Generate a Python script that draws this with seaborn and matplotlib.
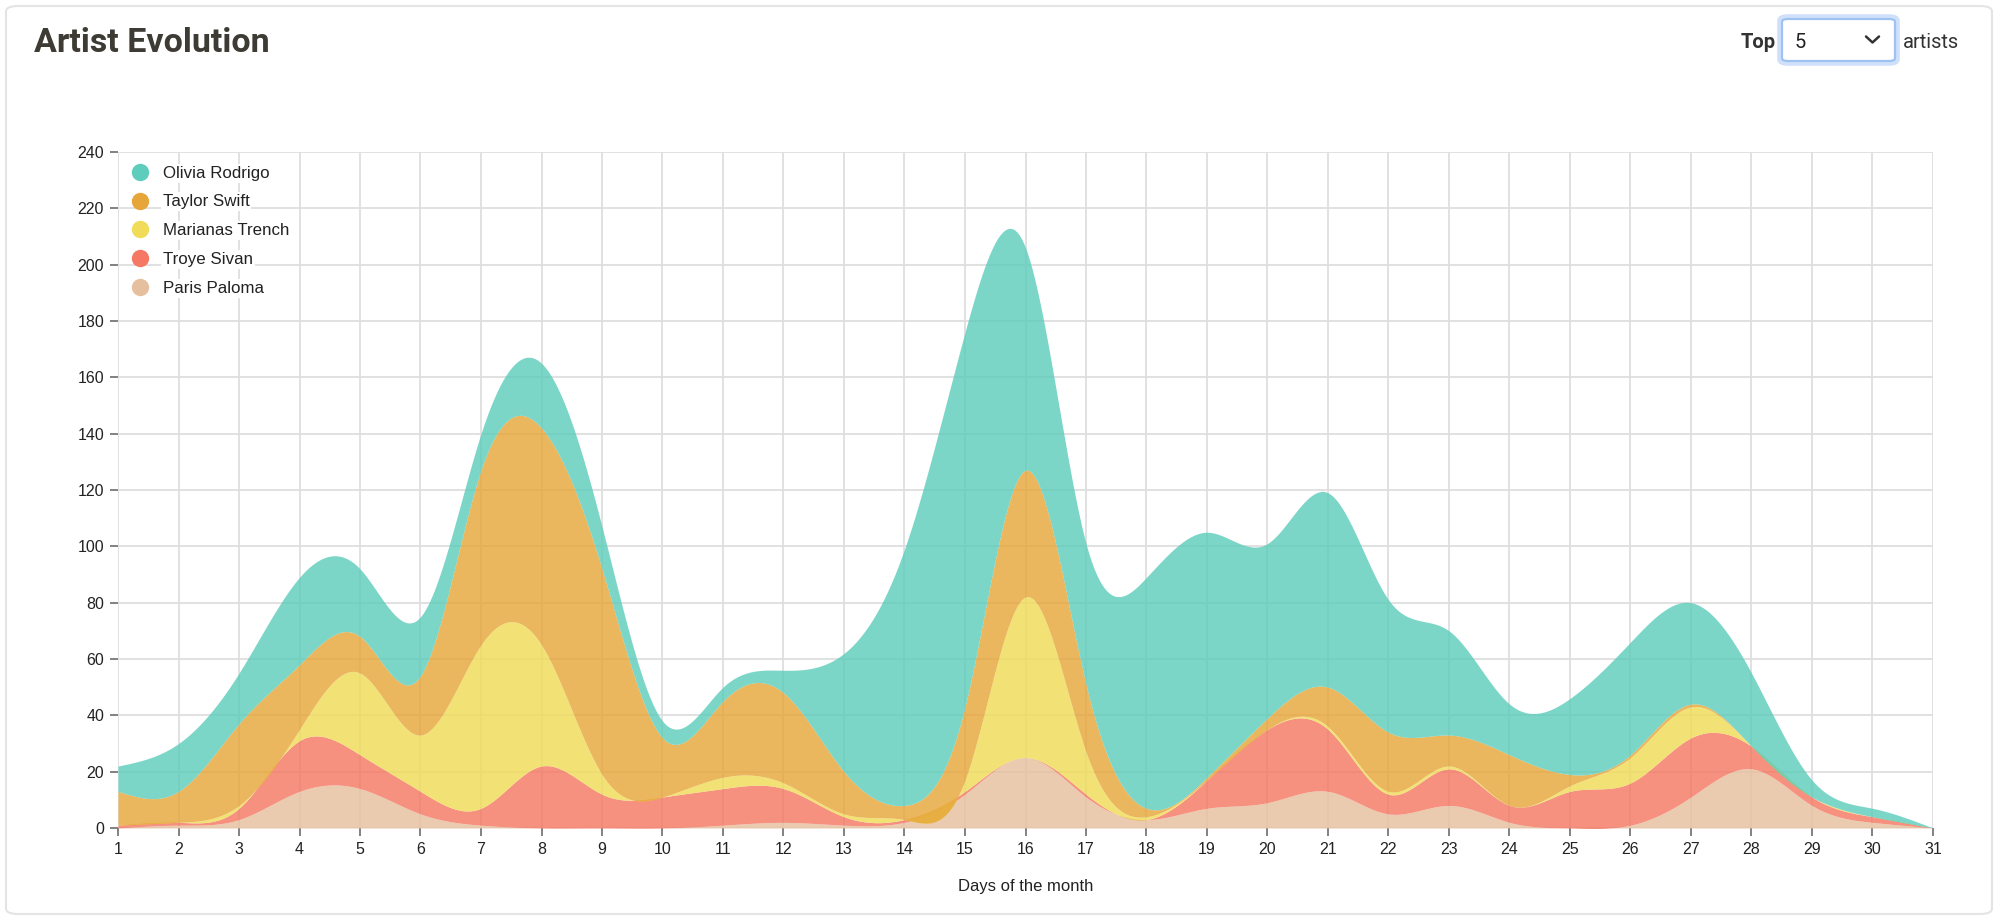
import numpy as np
import matplotlib
matplotlib.use("Agg")
import matplotlib.pyplot as plt
from matplotlib.patches import FancyBboxPatch
from matplotlib.lines import Line2D
import seaborn as sns

# ------------------------------------------------------------
# data: plays per day for the top 5 artists
# ------------------------------------------------------------
days = list(range(1, 32))

olivia_rodrigo = [9, 17, 18, 31, 24, 21, 13, 23, 15, 6, 5, 8, 42, 91, 133, 79,
                  50, 82, 87, 62, 69, 47, 37, 18, 27, 40, 36, 26, 6, 3, 0]
taylor_swift = [12, 11, 29, 23, 13, 21, 62, 77, 73, 21, 27, 32, 15, 5, 26, 45,
                24, 3, 1, 4, 14, 21, 11, 18, 4, 1, 1, 0, 0, 0, 0]
marianas_trench = [0, 0, 1, 4, 29, 20, 58, 43, 7, 0, 4, 2, 1, 0, 4, 57,
                   15, 1, 0, 0, 1, 1, 1, 0, 2, 9, 11, 0, 0, 0, 0]
troye_sivan = [1, 1, 4, 18, 12, 8, 6, 22, 12, 11, 13, 12, 3, 1, 1, 0,
               1, 0, 10, 26, 22, 7, 13, 6, 13, 15, 21, 8, 3, 2, 0]
paris_paloma = [0, 1, 3, 13, 14, 5, 1, 0, 0, 0, 1, 2, 1, 2, 12, 25,
                11, 3, 7, 9, 13, 5, 8, 2, 0, 1, 11, 21, 8, 2, 0]

# legend order (top of the stack first)
artists = ["Olivia Rodrigo", "Taylor Swift", "Marianas Trench", "Troye Sivan", "Paris Paloma"]
series = [olivia_rodrigo, taylor_swift, marianas_trench, troye_sivan, paris_paloma]

PALETTE = {
    "Olivia Rodrigo": "#5ecdbb",
    "Taylor Swift": "#e6a63a",
    "Marianas Trench": "#f0dc58",
    "Troye Sivan": "#f47863",
    "Paris Paloma": "#e6c09e",
}

y_ticks = list(range(0, 241, 20))


def natural(xs, ys, n=40):
    """natural cubic spline through evenly spaced points (like d3.curveNatural)"""
    x = np.asarray(xs, float)
    y = np.asarray(ys, float)
    m = len(y)
    A = np.zeros((m, m))
    b = np.zeros(m)
    A[0, 0] = A[-1, -1] = 1.0
    for i in range(1, m - 1):
        A[i, i - 1], A[i, i], A[i, i + 1] = 1.0, 4.0, 1.0
        b[i] = 6.0 * (y[i + 1] - 2 * y[i] + y[i - 1])
    M = np.linalg.solve(A, b)
    t = np.linspace(0, 1, n, endpoint=False)
    out_x, out_y = [], []
    for i in range(m - 1):
        out_x.append(x[i] + t * (x[i + 1] - x[i]))
        out_y.append((1 - t) * y[i] + t * y[i + 1]
                     + ((1 - t) ** 3 - (1 - t)) * M[i] / 6.0
                     + (t ** 3 - t) * M[i + 1] / 6.0)
    out_x.append([x[-1]])
    out_y.append([y[-1]])
    return np.concatenate(out_x), np.concatenate(out_y)


# ------------------------------------------------------------
# figure
# ------------------------------------------------------------
sns.set_theme(style="whitegrid")
plt.rcParams["font.family"] = ["Liberation Sans", "DejaVu Sans"]

W, H = 2000, 921
fig = plt.figure(figsize=(W / 100, H / 100), dpi=100, facecolor="white")


def fx(px):
    return px / W


def fy(py):
    return 1 - py / H


# card
card = FancyBboxPatch((fx(6), fy(914)), fx(1986), 908 / H,
                      boxstyle="round,pad=0,rounding_size=0.006",
                      transform=fig.transFigure, facecolor="white",
                      edgecolor="#e4e4e4", linewidth=1.5, zorder=-5)
fig.patches.append(card)

ax = fig.add_axes([fx(118), fy(828), fx(1933) - fx(118), (828 - 152) / H])
ax.set_facecolor("none")
ax.set_zorder(1)

# stacked, smoothed areas (bottom layer = last in legend)
bottom = np.zeros(len(days))
for name, vals in reversed(list(zip(artists, series))):
    top = bottom + np.asarray(vals, float)
    xs, lo = natural(days, bottom)
    _, hi = natural(days, top)
    ax.fill_between(xs, lo, hi, color=PALETTE[name], alpha=0.82,
                    linewidth=0, zorder=2)
    bottom = top

ax.set_xlim(1, 31)
ax.set_ylim(0, 240)
ax.set_xticks(days)
ax.set_yticks(y_ticks)
ax.grid(True, color="#dedede", linewidth=1.3, zorder=0)
ax.set_axisbelow(True)
for s in ax.spines.values():
    s.set_visible(False)
ax.tick_params(axis="both", which="both", direction="out", length=6, width=1.3,
               color="#777777", labelsize=11.5, labelcolor="#222222", pad=4)
ax.tick_params(axis="x", bottom=True)
ax.tick_params(axis="y", left=True)
ax.set_xlabel("Days of the month", fontsize=12, color="#222222", labelpad=16)
ax.set_ylabel("")

# legend
handles = [Line2D([0], [0], marker="o", linestyle="none", markersize=12.5,
                  markerfacecolor=PALETTE[a], markeredgecolor="none")
           for a in artists]
leg = ax.legend(handles, artists, loc="upper left", frameon=False,
                fontsize=12.2, handlelength=0.9, handletextpad=0.9,
                labelspacing=0.82, borderaxespad=0, bbox_to_anchor=(0.004, 0.99))
for t in leg.get_texts():
    t.set_color("#222222")
    t.set_bbox(dict(facecolor="white", edgecolor="none", pad=1.5))

# header
fig.text(fx(34), fy(52), "Artist Evolution", fontsize=24.5, fontweight="bold",
         family=["Roboto", "DejaVu Sans"], color="#3d3b33", va="baseline", ha="left",
         zorder=6)
fig.text(fx(1741), fy(47.5), "Top", fontsize=14.5, fontweight="bold",
         family=["Roboto", "DejaVu Sans"], color="#333333", va="baseline", ha="left",
         zorder=6)
fig.text(fx(1795), fy(47.5), "5", fontsize=14.5,
         family=["Roboto", "DejaVu Sans"], color="#222222", va="baseline", ha="left",
         zorder=6)
fig.text(fx(1903), fy(47.5), "artists", fontsize=14.5,
         family=["Roboto", "DejaVu Sans"], color="#333333", va="baseline", ha="left",
         zorder=6)

glow = FancyBboxPatch((fx(1780), fy(63)), fx(117), 46 / H,
                      boxstyle="round,pad=0,rounding_size=0.004",
                      transform=fig.transFigure, facecolor="none",
                      edgecolor="#cfe0fa", linewidth=4, zorder=3)
box = FancyBboxPatch((fx(1782), fy(61)), fx(113), 42 / H,
                     boxstyle="round,pad=0,rounding_size=0.003",
                     transform=fig.transFigure, facecolor="white",
                     edgecolor="#9fc2f2", linewidth=1.6, zorder=4)
fig.patches.extend([glow, box])
fig.lines.append(Line2D([fx(1866), fx(1872.5), fx(1879)], [fy(36.5), fy(42.5), fy(36.5)],
                        transform=fig.transFigure, color="#333333",
                        linewidth=1.8, solid_capstyle="round", zorder=5))

fig.savefig("out.png", dpi=100, facecolor="white")
